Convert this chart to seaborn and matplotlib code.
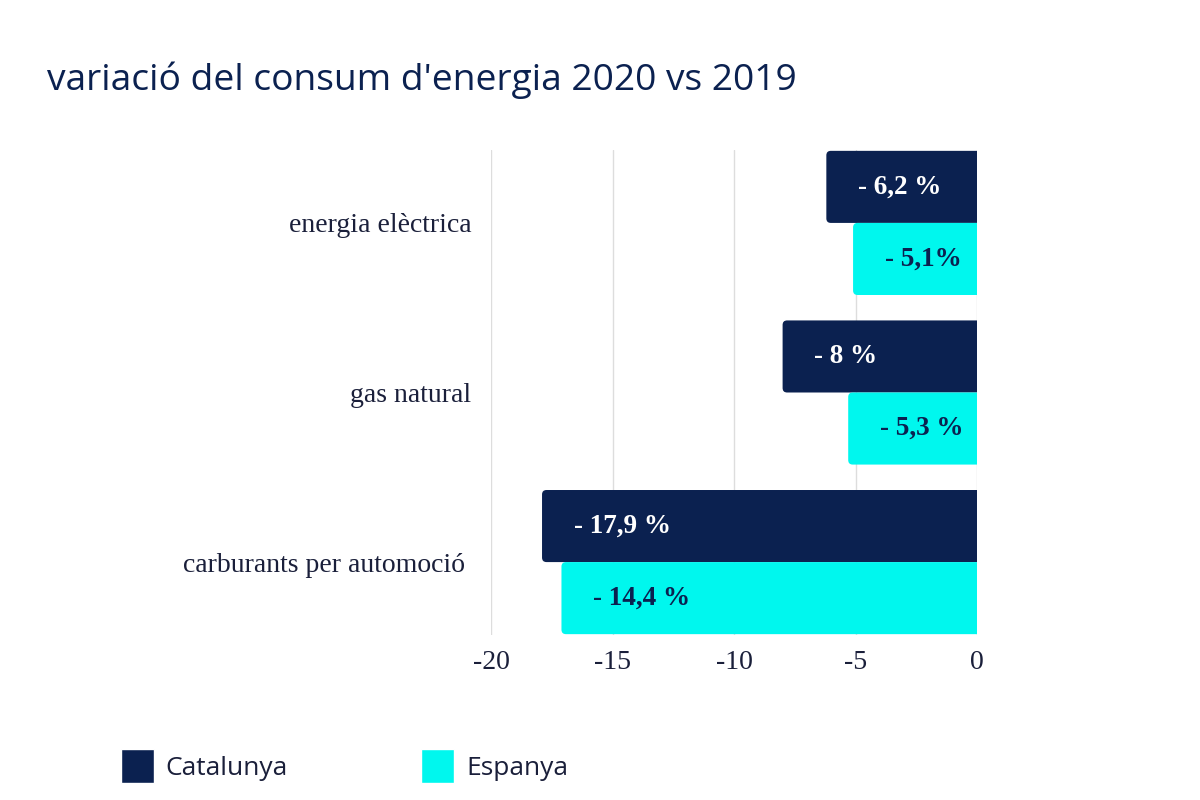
import matplotlib
matplotlib.use("Agg")
import matplotlib.pyplot as plt
import seaborn as sns
import pandas as pd
from matplotlib.patches import Patch, FancyBboxPatch

categories = ["energia elèctrica", "gas natural", "carburants per automoció "]
series = ["Catalunya", "Espanya"]
catalunya = [-6.2, -8.0, -17.9]
espanya = [-5.1, -5.3, -17.1]
labels_cat = ["- 6,2 %", "- 8 %", "- 17,9 %"]
labels_esp = ["- 5,1%", "- 5,3 %", "- 14,4 %"]
xticks = [-20, -15, -10, -5, 0]

NAVY = "#0b2150"
CYAN = "#00f7ee"

df = pd.DataFrame({
    "categoria": categories * 2,
    "serie": [series[0]] * 3 + [series[1]] * 3,
    "valor": catalunya + espanya,
})

sns.set_theme(style="white")
plt.rcParams["font.family"] = ["Liberation Serif", "DejaVu Serif"]

fig = plt.figure(figsize=(12, 8), dpi=100)
ax = fig.add_axes([491 / 1200, 1 - 635 / 800, (977 - 491) / 1200, (635 - 150) / 800])

sns.barplot(data=df, y="categoria", x="valor", hue="serie", orient="h",
            palette=[NAVY, CYAN], width=0.85, gap=0.0, dodge=True,
            ax=ax, legend=False, saturation=1)

ax.set_xlim(-20, 0)
ax.set_ylim(2.43, -0.43)

# rounded left corners: replace rectangles by rounded boxes (right side clipped at 0)
xpx = (977 - 491) / 20.0
ypx = (635 - 150) / 2.86
r = 4.5 / xpx
aspect = (4.5 / ypx) / r
for p in list(ax.patches):
    x0, y0 = p.get_x(), p.get_y()
    w, h = p.get_width(), p.get_height()
    left = min(x0, x0 + w)
    fc = p.get_facecolor()
    p.set_visible(False)
    fb = FancyBboxPatch((left, y0), abs(w) + 1.0, h,
                        boxstyle=f"round,pad=0,rounding_size={r}",
                        mutation_aspect=aspect, facecolor=fc, edgecolor="none",
                        clip_on=True, zorder=2)
    ax.add_patch(fb)

ax.set_xticks(xticks)
ax.set_xticklabels([str(t) for t in xticks])
ax.tick_params(axis="x", labelsize=20, colors="#1a1f3a", length=0, pad=11)
ax.tick_params(axis="y", labelsize=20, colors="#1a1f3a", length=0, pad=14)
ax.set_xlabel("")
ax.set_ylabel("")
ax.grid(axis="x", color="#dddddd", linewidth=1)
ax.set_axisbelow(True)
for s in ax.spines.values():
    s.set_visible(False)

# value labels
off = 1.3
bw = 0.85 / 2
for i, (v, t) in enumerate(zip(catalunya, labels_cat)):
    ax.text(v + off, i - bw / 2, t, ha="left", va="center", color="white",
            fontsize=19.5, fontweight="bold", zorder=3)
for i, (v, t) in enumerate(zip(espanya, labels_esp)):
    ax.text(v + off, i + bw / 2, t, ha="left", va="center", color=NAVY,
            fontsize=19.5, fontweight="bold", zorder=3)

fig.text(47 / 1200, 1 - 80 / 800, "variació del consum d'energia 2020 vs 2019",
         fontsize=26.7, color=NAVY, family=["Open Sans", "DejaVu Sans"],
         ha="left", va="center")

handles = [Patch(facecolor=NAVY, label="Catalunya"), Patch(facecolor=CYAN, label="Espanya")]
fig.legend(handles=handles, loc="center left", bbox_to_anchor=(121 / 1200, 1 - 766 / 800),
           ncol=2, frameon=False, borderpad=0, borderaxespad=0,
           handlelength=1.25, handleheight=1.55, handletextpad=0.45,
           columnspacing=5.05, prop={"family": ["Open Sans", "DejaVu Sans"], "size": 19},
           labelcolor="#1a1f3a")

fig.savefig("out.png", dpi=100, facecolor="white")
